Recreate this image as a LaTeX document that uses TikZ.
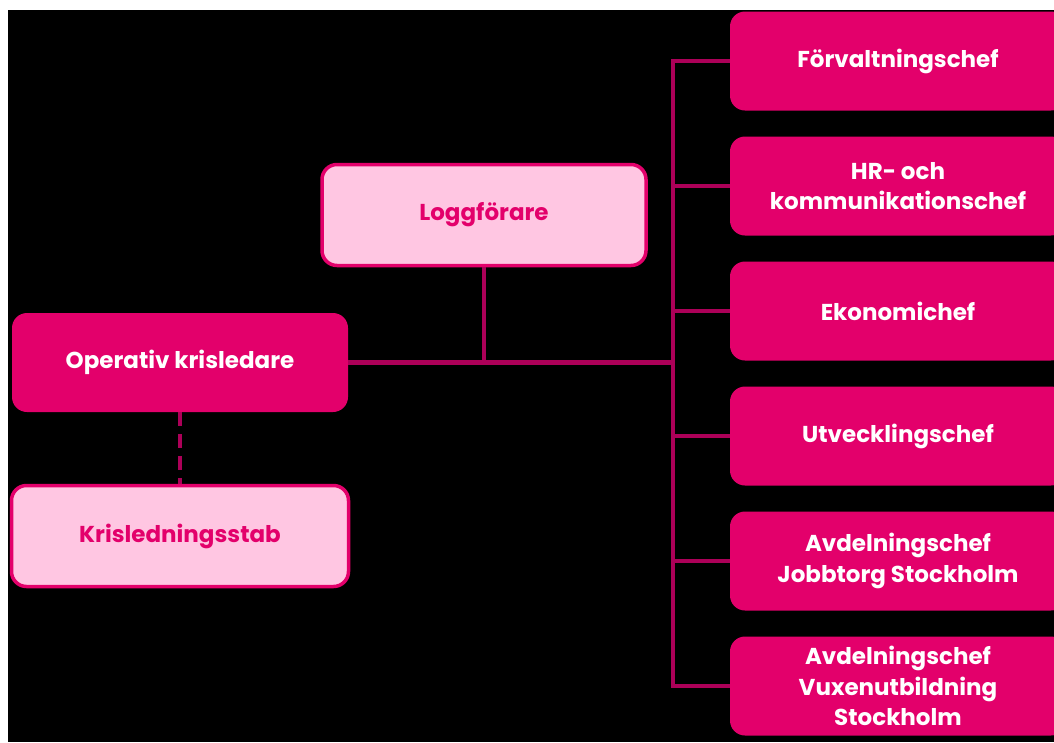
\documentclass[tikz,border=0pt]{standalone}
\usepackage{fontspec}
\setmainfont{Poppins}
\usetikzlibrary{positioning}

\definecolor{magenta}{HTML}{E3006B}
\definecolor{linepink}{HTML}{AC0058}
\definecolor{lightpink}{HTML}{FFC6E2}

\begin{document}
\begin{tikzpicture}[x=1pt, y=-1pt,
  box/.style = {rounded corners=15pt, minimum width=336pt, minimum height=99pt,
    align=center, font=\fontsize{23}{30.5}\selectfont\bfseries},
  darkbox/.style = {box, fill=magenta, text=white},
  lightbox/.style = {box, fill=lightpink, draw=magenta, line width=3.5pt, text=magenta},
  conn/.style = {draw=linepink, line width=4.5pt},
  dashconn/.style = {conn, dash pattern=on 14pt off 8pt}]

  \useasboundingbox (0,0) rectangle (1054,742);
  \fill[black] (8,10) rectangle (1054,742);

  % left column
  \node[darkbox] (op) at (180,362.5) {Operativ krisledare};
  \node[lightbox, minimum width=337pt, minimum height=101pt] (stab) at (180,536) {Krisledningsstab};
  \node[lightbox, minimum width=324pt, minimum height=101pt] (logg) at (484,215) {Loggförare};

  % right column
  \foreach \n/\txt [count=\i] in {forv/Förvaltningschef,
      hr/{HR- och\\kommunikationschef},
      eko/Ekonomichef,
      utv/Utvecklingschef,
      job/{Avdelningschef\\Jobbtorg Stockholm},
      vux/{Avdelningschef\\Vuxenutbildning\\Stockholm}}
    \node[darkbox] (\n) at (898,{61+125*(\i-1)}) {\txt};

  \coordinate (j) at (673,362.5);

  \draw[conn] (op.east) -- (j);
  \draw[conn] (logg.south) -- (logg.south |- j);
  \draw[conn, line cap=rect] (j |- forv.west) -- (j |- vux.west);
  \foreach \n in {forv,hr,eko,utv,job,vux}
    \draw[conn] (j |- \n.west) -- (\n.west);
  \draw[dashconn] (op.south) -- (stab.north);

\end{tikzpicture}
\end{document}
